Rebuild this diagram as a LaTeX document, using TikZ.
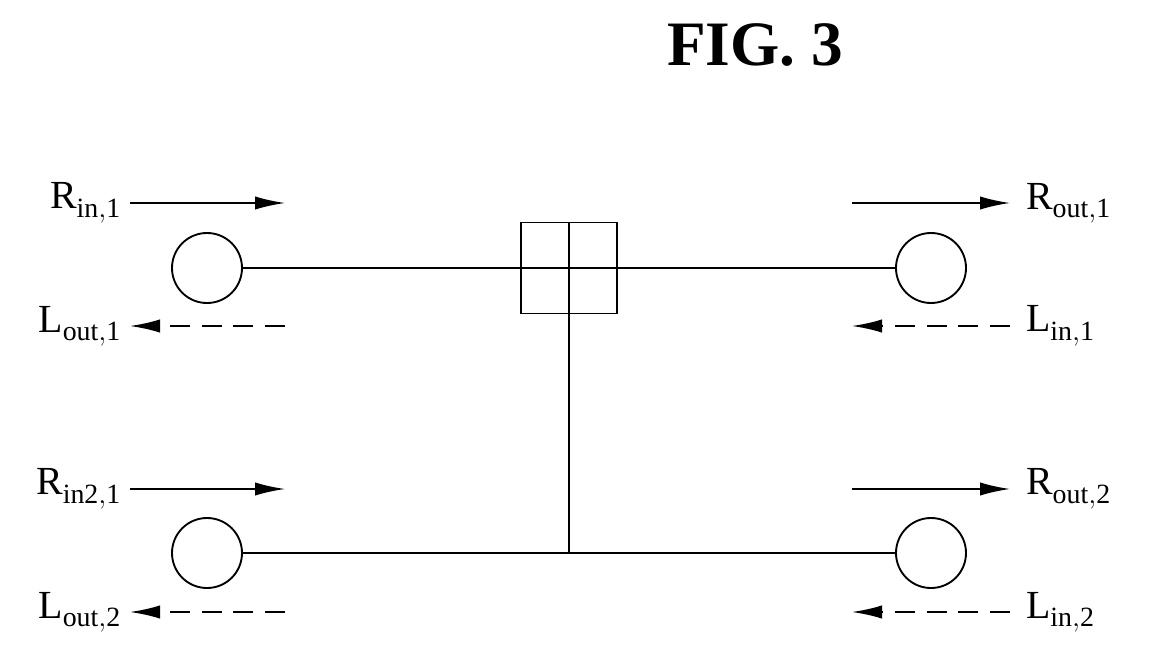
\documentclass[tikz,border=0pt]{standalone}
\usepackage{fontspec}
\setmainfont{Liberation Serif}
\usetikzlibrary{arrows.meta}
\tikzset{
  port/.style = {draw, circle, line width=1.6pt, minimum size=21mm, inner sep=0pt},
  junction/.style = {draw, rectangle, line width=1.6pt, minimum width=29mm, minimum height=27.3mm, inner sep=0pt},
  lbl/.style = {font=\fontsize{34}{40}\selectfont},
  flow/.style = {line width=1.6pt, -{Latex[length=9mm,width=4mm]}},
  back/.style = {flow, dashed, dash pattern=on 6mm off 3.5mm}
}
\begin{document}
\begin{tikzpicture}[x=0.3mm, y=-0.3mm]
\useasboundingbox (0,0) rectangle (1154,648);
% Title
\node [font=\bfseries\fontsize{54}{60}\selectfont] (title) at (755,45) {FIG. 3};
% Place nodes
\node [port] (p1) at (207,268) {};
\node [port] (p2) at (931,268) {};
\node [port] (p3) at (207,553) {};
\node [port] (p4) at (931,553) {};
\node [junction] (box) at (569,268) {};
\coordinate (bot) at (569,553);
% Draw edges
\draw [line width=1.6pt] (box.north) -- (box.south) (box.west) -- (box.east);
\draw [line width=1.6pt] (p1) -- (box) -- (p2);
\draw [line width=2.2pt] (box.south) -- (bot);
\draw [line width=2.2pt] (p3) -- (p4);
% Arrows and labels
\foreach \y/\ri/\lo/\ro/\li in {203/{in,1}/{out,1}/{out,1}/{in,1}, 489/{in2,1}/{out,2}/{out,2}/{in,2}} {
  \coordinate (la) at (130,\y);
  \coordinate (lb) at (285,\y);
  \coordinate (ra) at (852,\y);
  \coordinate (rb) at (1010,\y);
  \coordinate (lc) at (130,\y+123);
  \coordinate (ld) at (285,\y+123);
  \coordinate (rc) at (852,\y+123);
  \coordinate (rd) at (1010,\y+123);
  \draw [flow] (la) -- (lb);
  \draw [flow] (ra) -- (rb);
  \draw [back] (ld) -- (lc);
  \draw [back] (rd) -- (rc);
  \node [lbl, anchor=east] at (125,\y) {R$_{\mathrm{\ri}}$};
  \node [lbl, anchor=east] at (125,\y+123) {L$_{\mathrm{\lo}}$};
  \node [lbl, anchor=west] at (1022,\y) {R$_{\mathrm{\ro}}$};
  \node [lbl, anchor=west] at (1022,\y+123) {L$_{\mathrm{\li}}$};
}
\end{tikzpicture}
\end{document}
